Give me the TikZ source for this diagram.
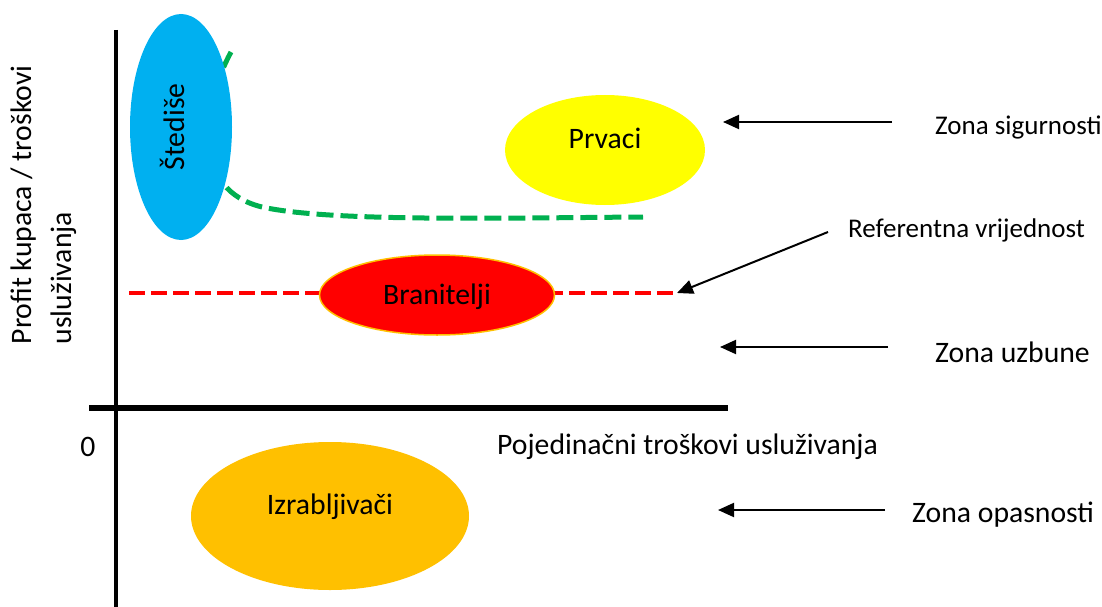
\documentclass[tikz,border=0pt]{standalone}
\usepackage{fontspec}
\setmainfont{Carlito}
\usetikzlibrary{shapes,arrows.meta}
\definecolor{plava}{HTML}{00B0F0}
\definecolor{zuta}{HTML}{FFFF00}
\definecolor{crvena}{HTML}{FF0000}
\definecolor{narancasta}{HTML}{FFC000}
\definecolor{zelena}{HTML}{00B050}
\tikzstyle{el} = [ellipse, inner sep=0pt, draw=none]
\tikzstyle{tx} = [inner sep=0pt, font=\fontsize{29.7}{40}\selectfont]
\tikzstyle{sm} = [inner sep=0pt, font=\fontsize{27}{32}\selectfont]
\tikzstyle{ar} = [line width=2pt, -{Triangle[length=16pt,width=14pt]}]
\tikzstyle{os} = [line width=5pt]

\begin{document}
\begin{tikzpicture}[x=1pt,y=-1pt]
			\useasboundingbox (0,0) rectangle (1102,607);
			% osi
			\coordinate (yt) at (116,30);
			\coordinate (yb) at (116,607);
			\coordinate (xl) at (89,408);
			\coordinate (xr) at (728,408);
			\draw[os,line width=4.5pt] (yt)--(yb);
			\draw[os,line width=5.5pt] (xl)--(xr);
			\node[tx](nula) at (88,447){0};
			\node[tx,anchor=west](xos) at (497,447){Pojedinačni troškovi usluživanja};
			\node[tx,rotate=90,align=left](yos) at (44,205){Profit kupaca / troškovi\\usluživanja};
			
			% zelena krivulja iza elipse
			\coordinate (g1) at (231,52);
			\coordinate (g2) at (262,207);
			\coordinate (g3) at (643,217);
			\draw[zelena,line width=5pt,dash pattern=on 17pt off 7pt] (g1) .. controls (200,110) and (192,190) .. (g2) .. controls (330,222) and (500,218) .. (g3);
			\node[el,fill=plava,minimum width=102pt,minimum height=226pt](stedise) at (181,127){};
			\node[tx,rotate=90](stedisetx) at ([xshift=-9pt]stedise.center){Štediše};
			
			\node[el,fill=zuta,minimum width=200pt,minimum height=110pt](prvaci) at (605,150){};
			\node[tx](prvacitx) at ([yshift=12pt]prvaci.center){Prvaci};
			
			% referentna vrijednost
			\coordinate (refl) at (129,293);
			\coordinate (refr) at (677,293);
			\draw[crvena,line width=4pt,dash pattern=on 16pt off 6pt] (refl)--(refr);
			\node[el,fill=crvena,draw=narancasta,line width=1.5pt,minimum width=235pt,minimum height=80pt](branitelji) at (437,295){};
			\node[tx](braniteljitx) at ([yshift=-2pt]branitelji.center){Branitelji};
			
			\node[el,fill=narancasta,minimum width=278pt,minimum height=148pt](izrab) at (330,516){};
			\node[tx](izrabtx) at ([yshift=9pt]izrab.center){Izrabljivači};
			
			% zone
			\node[sm,anchor=west](sig) at (935,127){Zona sigurnosti};
			\node[sm,anchor=west](refv) at (848,230){Referentna vrijednost};
			\node[tx,anchor=west](uzb) at (935,352){Zona uzbune};
			\node[tx,anchor=west](opa) at (912,515){Zona opasnosti};
			\coordinate (sigv) at (723,122);
			\coordinate (uzbv) at (720,347);
			\coordinate (opav) at (718,510);
			
			\draw[ar] ([xshift=-43pt,yshift=5pt]sig.west)--(sigv);
			\draw[ar] ([xshift=-20pt,yshift=-2pt]refv.west)--(refr);
			\draw[ar] ([xshift=-47pt,yshift=5pt]uzb.west)--(uzbv);
			\draw[ar] ([xshift=-27pt,yshift=5pt]opa.west)--(opav);
			\end{tikzpicture}
\end{document}
